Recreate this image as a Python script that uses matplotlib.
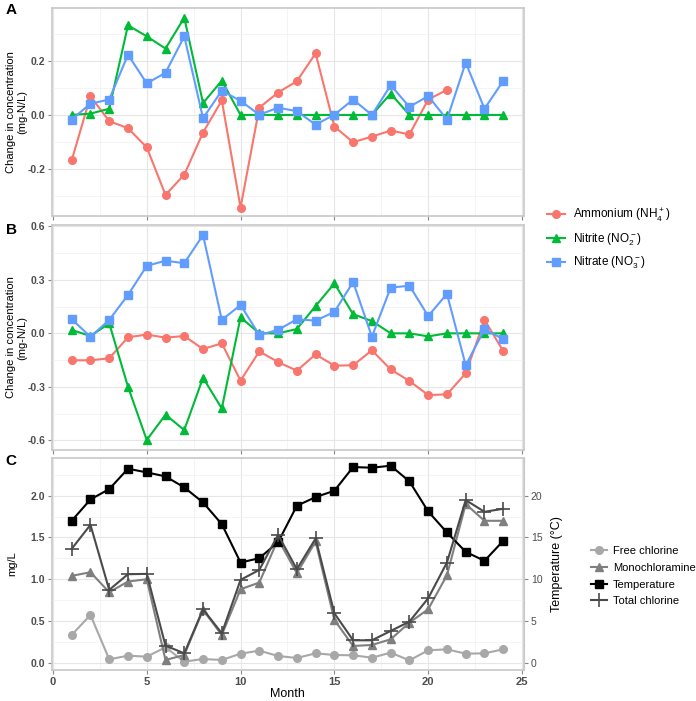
import numpy as np
import matplotlib
matplotlib.use("Agg")
import matplotlib.pyplot as plt
from matplotlib.ticker import MultipleLocator

plt.rcParams["font.family"] = ["Liberation Sans", "DejaVu Sans"]
plt.rcParams["mathtext.fontset"] = "custom"
plt.rcParams["mathtext.rm"] = "Liberation Sans"

months = np.arange(1, 25)

# Panel A: change in concentration (mg-N/L)
a_ammonium = [-0.168, 0.069, -0.023, -0.049, -0.120, -0.296, -0.221, -0.065, 0.054, -0.343,
              0.027, 0.083, 0.125, 0.228, -0.043, -0.101, -0.080, -0.058, -0.072, 0.057, 0.093]
a_nitrite = [0.0, 0.005, 0.023, 0.332, 0.291, 0.246, 0.360, 0.044, 0.127, 0.0,
             0.0, 0.0, 0.0, 0.0, 0.0, 0.0, 0.0, 0.079, 0.0, 0.0, 0.0, 0.0, 0.0, 0.0]
a_nitrate = [-0.017, 0.042, 0.057, 0.223, 0.117, 0.156, 0.291, -0.012, 0.090, 0.052,
             0.001, 0.027, 0.014, -0.036, 0.001, 0.057, 0.0, 0.110, 0.030, 0.070,
             -0.017, 0.194, 0.023, 0.126]

# Panel B
b_ammonium = [-0.151, -0.151, -0.140, -0.022, -0.007, -0.024, -0.015, -0.088, -0.056, -0.265,
              -0.101, -0.161, -0.209, -0.118, -0.181, -0.179, -0.095, -0.202, -0.267, -0.346,
              -0.342, -0.224, 0.075, -0.099]
b_nitrite = [0.019, -0.015, 0.056, -0.299, -0.598, -0.456, -0.542, -0.249, -0.421, 0.090,
             0.0, 0.0, 0.024, 0.153, 0.280, 0.107, 0.069, 0.0, 0.0, -0.017,
             0.0, 0.0, 0.0, 0.0]
b_nitrate = [0.079, -0.019, 0.075, 0.215, 0.378, 0.407, 0.393, 0.551, 0.075, 0.159,
             -0.009, 0.019, 0.079, 0.071, 0.120, 0.288, -0.019, 0.256, 0.267, 0.097,
             0.221, -0.179, 0.022, -0.032]

# Panel C: chlorine (mg/L) and temperature (°C)
free_chlorine = [0.332, 0.572, 0.040, 0.084, 0.072, 0.184, 0.012, 0.044, 0.032, 0.108,
                 0.144, 0.080, 0.056, 0.112, 0.092, 0.088, 0.060, 0.120, 0.028, 0.148,
                 0.160, 0.108, 0.112, 0.160]
monochloramine = [1.040, 1.084, 0.844, 0.972, 1.000, 0.032, 0.092, 0.632, 0.332, 0.880,
                  0.960, 1.480, 1.072, 1.452, 0.512, 0.200, 0.212, 0.280, 0.480, 0.640,
                  1.048, 1.900, 1.700, 1.700]
temperature = [17.0, 19.56, 20.8, 23.24, 22.8, 22.32, 21.0, 19.2, 16.6, 12.0,
               12.52, 14.44, 18.8, 19.84, 20.6, 23.44, 23.36, 23.6, 21.72, 18.12,
               15.6, 13.28, 12.2, 14.6]
total_chlorine = [1.364, 1.652, 0.872, 1.060, 1.064, 0.204, 0.112, 0.640, 0.352, 0.992,
                  1.112, 1.532, 1.120, 1.488, 0.592, 0.268, 0.268, 0.380, 0.492, 0.772,
                  1.200, 1.948, 1.808, 1.844]

RED, GREEN, BLUE = "#F8766D", "#00BA38", "#619CFF"
TICK_COL = "#4D4D4D"

fig = plt.figure(figsize=(6.96, 7.01), dpi=100)
ax_a = fig.add_axes([0.0747, 0.6919, 0.678, 0.2967])
ax_b = fig.add_axes([0.0747, 0.3580, 0.678, 0.3210])
ax_c = fig.add_axes([0.0747, 0.0442, 0.678, 0.3024])


def style(ax):
    ax.set_xlim(-0.05, 25.1)
    ax.xaxis.set_major_locator(MultipleLocator(5))
    ax.xaxis.set_minor_locator(MultipleLocator(2.5))
    ax.grid(which="major", color="#E6E6E6", lw=0.8)
    ax.grid(which="minor", color="#F3F3F3", lw=0.6)
    ax.set_axisbelow(True)
    for s in ax.spines.values():
        s.set_color("#C8C8C8")
        s.set_linewidth(1.2)
    ax.tick_params(which="major", length=3, color="#888888", labelsize=7.5,
                   labelcolor=TICK_COL, pad=2)
    ax.tick_params(which="minor", length=0)
    for lab in ax.get_yticklabels() + ax.get_xticklabels():
        lab.set_fontweight("bold")


def left_label(ax, text):
    ax.set_ylabel(text, fontsize=8, linespacing=1.1, va="center")
    ax.yaxis.set_label_coords(-0.075, 0.5)


kw = dict(lw=1.5, ms=5.5)

# Panel A
ax_a.plot(months[:len(a_ammonium)], a_ammonium, "-o", color=RED, **kw)
ax_a.plot(months, a_nitrite, "-^", color=GREEN, **kw)
ax_a.plot(months, a_nitrate, "-s", color=BLUE, **kw)
ax_a.set_ylim(-0.374, 0.396)
ax_a.yaxis.set_minor_locator(MultipleLocator(0.1))
ax_a.set_yticks([-0.2, 0.0, 0.2])
ax_a.set_yticklabels(["-0.2", "0.0", "0.2"])
ax_a.tick_params(axis="x", labelbottom=False)
style(ax_a)
left_label(ax_a, "Change in concentration\n(mg-N/L)")

# Panel B
la, = ax_b.plot(months, b_ammonium, "-o", color=RED, **kw)
ln, = ax_b.plot(months, b_nitrite, "-^", color=GREEN, **kw)
lt, = ax_b.plot(months, b_nitrate, "-s", color=BLUE, **kw)
ax_b.set_ylim(-0.654, 0.607)
ax_b.set_yticks([-0.6, -0.3, 0.0, 0.3, 0.6])
ax_b.set_yticklabels(["-0.6", "-0.3", "0.0", "0.3", "0.6"])
ax_b.yaxis.set_minor_locator(MultipleLocator(0.15))
ax_b.tick_params(axis="x", labelbottom=False)
style(ax_b)
left_label(ax_b, "Change in concentration\n(mg-N/L)")

fig.legend([la, ln, lt],
           ["Ammonium (NH$_4^+$)", "Nitrite (NO$_2^-$)", "Nitrate (NO$_3^-$)"],
           loc="center left", bbox_to_anchor=(0.77, 0.659), frameon=False,
           fontsize=8.5, handlelength=1.6, labelspacing=0.6, handletextpad=0.6)

# Panel C
temp_scaled = np.array(temperature) / 10.0
lf, = ax_c.plot(months, free_chlorine, "-o", color="#A8A8A8", **kw)
lm, = ax_c.plot(months, monochloramine, "-^", color="#7F7F7F", lw=1.5, ms=6)
ltmp, = ax_c.plot(months, temp_scaled, "-s", color="black", **kw)
ltot, = ax_c.plot(months, total_chlorine, "-+", color="#4A4A4A", lw=1.5, ms=10, mew=1.2)
ax_c.set_ylim(-0.088, 2.452)
ax_c.set_yticks([0.0, 0.5, 1.0, 1.5, 2.0])
ax_c.set_yticklabels(["0.0", "0.5", "1.0", "1.5", "2.0"])
ax_c.yaxis.set_minor_locator(MultipleLocator(0.25))
ax_c.set_xticks([0, 5, 10, 15, 20, 25])
style(ax_c)
ax_c.tick_params(axis="x", labelsize=8)
ax_c.set_ylabel("mg/L", fontsize=8, va="center")
ax_c.yaxis.set_label_coords(-0.085, 0.5)
ax_c.set_xlabel("Month", fontsize=9, labelpad=1)

sec = ax_c.secondary_yaxis("right", functions=(lambda v: v * 10, lambda t: t / 10))
sec.set_yticks([0, 5, 10, 15, 20])
sec.spines["right"].set_color("#C8C8C8")
sec.tick_params(length=3, color="#888888", labelsize=7.5, labelcolor=TICK_COL, pad=2)
sec.set_ylabel("Temperature (°C)", fontsize=9, labelpad=6)

fig.legend([lf, lm, ltmp, ltot],
           ["Free chlorine", "Monochloramine", "Temperature", "Total chlorine"],
           loc="center left", bbox_to_anchor=(0.838, 0.178), frameon=False,
           fontsize=8, handlelength=1.4, labelspacing=0.6, handletextpad=0.6,
           borderpad=0.2)

for lab, y in [("A", 0.996), ("B", 0.682), ("C", 0.352)]:
    fig.text(0.008, y, lab, fontsize=11, fontweight="bold", va="top")

fig.savefig("out.png", dpi=100)
